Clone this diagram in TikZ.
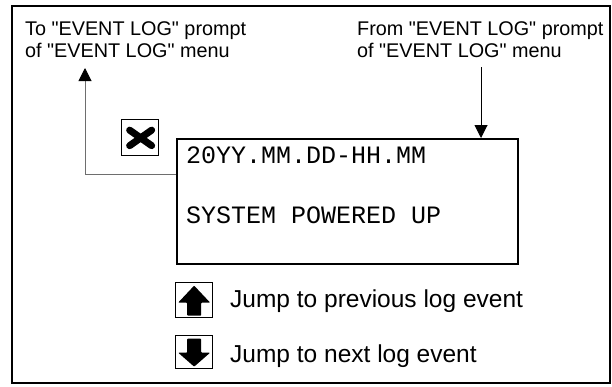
\documentclass[tikz,border=0pt]{standalone}
\usepackage{fontspec}
\setmainfont{Liberation Sans}[Ligatures=TeXOff]
\newfontfamily\lcdmono{Liberation Mono}
\usetikzlibrary{arrows.meta}
\definecolor{lineGray}{RGB}{110,110,110}
\tikzset{
  toplabel/.style={anchor=base west, inner sep=0pt, align=left, font=\fontsize{19.8}{22}\selectfont},
  keylabel/.style={anchor=base west, inner sep=0pt, font=\fontsize{24.5}{28}\selectfont},
  lcdtext/.style={anchor=base west, inner sep=0pt, font=\lcdmono\fontsize{25}{28}\selectfont},
  iconbox/.style={draw=black, line width=1.3pt, inner sep=0pt, minimum width=37pt, minimum height=36pt, anchor=north west},
  flowarrow/.style={line width=1pt, -{Triangle[length=13pt,width=13pt]}},
}
\begin{document}
\begin{tikzpicture}[x=1pt,y=-1pt]
\useasboundingbox (0,0) rectangle (612,386);
% outer frame
\draw[line width=2pt] (12,6) rectangle (610,383);
% labels (base anchor = baseline of the last line)
\node[toplabel] (tolabel) at (25,57) {To "EVENT LOG" prompt\\of "EVENT LOG" menu};
\node[toplabel] (fromlabel) at (357,57) {From "EVENT LOG" prompt\\of "EVENT LOG" menu};
% display box
\node[draw=black, line width=1.5pt, minimum width=341pt, minimum height=125pt, inner sep=0pt, anchor=north west] (lcd) at (176,138) {};
\node[lcdtext] (line1) at (186,163) {20YY.MM.DD-HH.MM};
\node[lcdtext] (line2) at (186,223) {SYSTEM POWERED UP};
% connectors
\coordinate (fromtop) at (481,67);
\coordinate (toturn) at (85,174);
\coordinate (totop) at (85,68);
\draw[flowarrow] (fromtop) -- (fromtop |- lcd.north);
\draw[line width=1pt, draw=lineGray] (lcd.west |- toturn) -- (toturn) -- ([yshift=-12pt]totop);
\draw[flowarrow, draw=lineGray, -{Triangle[length=13pt,width=13pt,fill=black,color=black]}] ([yshift=-11pt]totop) -- (totop);
% escape icon
\node[iconbox] (esc) at (121,119) {};
\draw[line width=7pt, line cap=round] ([shift={(-10.5,-7.5)}]esc.center) -- ([shift={(11.5,8)}]esc.center);
\draw[line width=7pt, line cap=round] ([shift={(-10.5,8)}]esc.center) -- ([shift={(11.5,-7.5)}]esc.center);
% up icon
\node[iconbox, minimum height=35pt] (upkey) at (175,282) {};
\fill[rounded corners=0.8pt] ([shift={(0,-14.5)}]upkey.center) -- ([shift={(-16,2.5)}]upkey.center) -- ([shift={(-7,2.5)}]upkey.center) -- ([shift={(-7,15.5)}]upkey.center) -- ([shift={(7,15.5)}]upkey.center) -- ([shift={(7,2.5)}]upkey.center) -- ([shift={(16,2.5)}]upkey.center) -- cycle;
\node[keylabel] (uplabel) at (230,307) {Jump to previous log event};
% down icon
\node[iconbox, minimum height=33pt] (downkey) at (175,335) {};
\fill[rounded corners=0.8pt] ([shift={(0,14.5)}]downkey.center) -- ([shift={(-16,0.5)}]downkey.center) -- ([shift={(-7,0.5)}]downkey.center) -- ([shift={(-7,-13.5)}]downkey.center) -- ([shift={(7,-13.5)}]downkey.center) -- ([shift={(7,0.5)}]downkey.center) -- ([shift={(16,0.5)}]downkey.center) -- cycle;
\node[keylabel] (downlabel) at (230,362) {Jump to next log event};
\end{tikzpicture}
\end{document}
